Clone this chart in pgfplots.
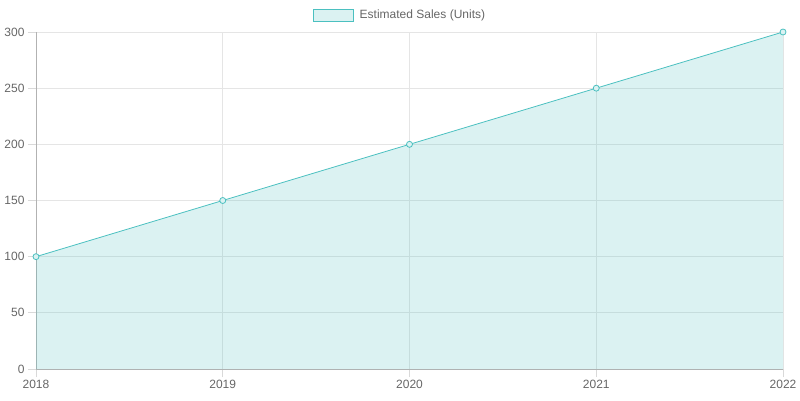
\documentclass[border=0pt]{standalone}
\usepackage{pgfplots}
\pgfplotsset{compat=1.18}
\usepackage{fontspec}
\setmainfont{Liberation Sans}
\definecolor{teal1}{RGB}{75,192,192}
\definecolor{tealfill}{RGB}{219,242,242}
\definecolor{lbl}{RGB}{102,102,102}
\begin{document}
\begin{tikzpicture}[x=1pt,y=1pt]
\useasboundingbox (0,0) rectangle (800,400);
\begin{axis}[
  at={(36pt,31pt)}, anchor=south west,
  scale only axis, width=747pt, height=337pt,
  xmin=0, xmax=4, ymin=0, ymax=300,
  xtick={0,1,2,3,4}, xticklabels={2018,2019,2020,2021,2022},
  ytick={0,50,100,150,200,250,300},
  axis lines=left, axis line style={draw=black!30, -},
  grid=major, grid style={draw=black!10, line width=0.8pt},
  tick style={draw=black!15, line width=0.8pt},
  major tick length=8pt, tick align=outside,
  ticklabel style={font=\fontsize{12}{14}\selectfont, text=lbl},
  /pgf/number format/assume math mode=true,
  legend style={at={(0.4873,1.0504)}, anchor=center, draw=none, fill=none,
    font=\fontsize{12}{14}\selectfont, text=lbl},
  legend image code/.code={\draw[draw=teal1, fill=tealfill, line width=0.8pt] (0pt,-6pt) rectangle (40pt,6pt); \path (44pt,0pt);},
  clip=false,
]
\addplot[fill=teal1, fill opacity=0.2, draw=none, forget plot] coordinates {(0,100) (1,150) (2,200) (3,250) (4,300)} \closedcycle;
\addplot[draw=teal1, line width=0.8pt, mark=*, mark size=3pt, mark options={fill=tealfill, draw=teal1, line width=0.8pt}]
  coordinates {(0,100) (1,150) (2,200) (3,250) (4,300)};
\addlegendentry{Estimated Sales (Units)}
\end{axis}
\end{tikzpicture}
\end{document}
